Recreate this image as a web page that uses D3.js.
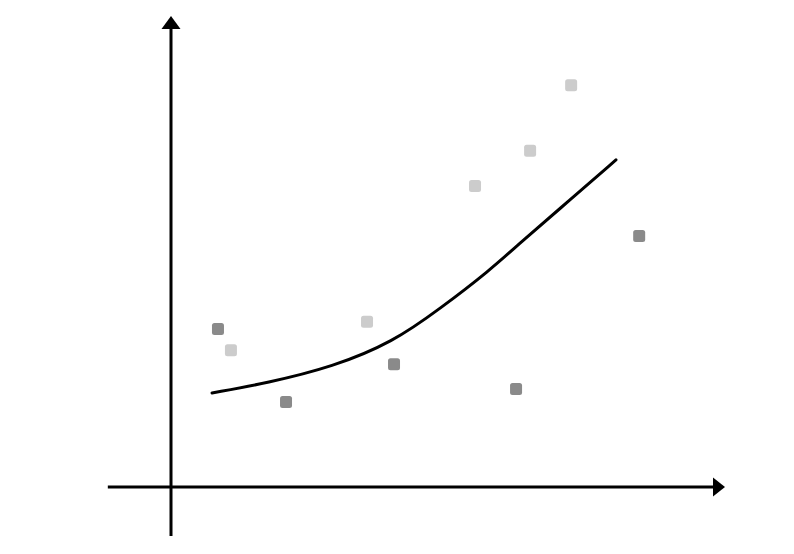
<!DOCTYPE html>
<html>
<head>
<meta charset="utf-8">
<script src="https://cdn.jsdelivr.net/npm/d3@7"></script>
<style>
html,body{margin:0;padding:0;background:#fff;}
svg{display:block;}
</style>
</head>
<body>
<svg id="chart" width="794" height="554"></svg>
<script>
// Data (arbitrary units)
const darkX = [0.87, 2.13, 4.13, 6.39, 8.67];
const darkY = [3.51, 1.89, 2.73, 2.18, 5.58];
const lightX = [1.11, 3.63, 5.63, 6.65, 7.41];
const lightY = [3.04, 3.67, 6.69, 7.47, 8.93];
const curveX = [0.76, 1.78, 3.00, 4.11, 4.98, 5.91, 6.46, 7.39, 8.24];
const curveY = [2.09, 2.31, 2.67, 3.22, 3.96, 4.82, 5.42, 6.38, 7.27];

const svg = d3.select("#chart");
const x = d3.scaleLinear().domain([0, 10]).range([171, 711]);
const y = d3.scaleLinear().domain([0, 10]).range([487, 37]);

// axes
const axisColor = "#000";
svg.append("line").attr("x1", x(-1.17)).attr("x2", 716).attr("y1", y(0)).attr("y2", y(0))
  .attr("stroke", axisColor).attr("stroke-width", 3);
svg.append("path").attr("d", `M725,${y(0)} L713,${y(0)-9.5} L713,${y(0)+9.5} Z`).attr("fill", axisColor);
svg.append("line").attr("x1", x(0)).attr("x2", x(0)).attr("y1", y(-1.09)).attr("y2", 26)
  .attr("stroke", axisColor).attr("stroke-width", 3);
svg.append("path").attr("d", `M${x(0)},16 L${x(0)-9.5},29 L${x(0)+9.5},29 Z`).attr("fill", axisColor);

// points
const sq = 12;
function drawPoints(xs, ys, color) {
  svg.append("g").selectAll("rect").data(xs.map((d, i) => [d, ys[i]])).join("rect")
    .attr("x", d => x(d[0]) - sq / 2).attr("y", d => y(d[1]) - sq / 2)
    .attr("width", sq).attr("height", sq).attr("rx", 2.5)
    .attr("fill", color);
}
drawPoints(darkX, darkY, "#8a8a8a");
drawPoints(lightX, lightY, "#cccccc");

// curve
const line = d3.line().x(d => x(d[0])).y(d => y(d[1])).curve(d3.curveBasis);
svg.append("path").datum(curveX.map((d, i) => [d, curveY[i]]))
  .attr("d", line).attr("fill", "none").attr("stroke", "#000").attr("stroke-width", 3)
  .attr("stroke-linecap", "round");
</script>
</body>
</html>
